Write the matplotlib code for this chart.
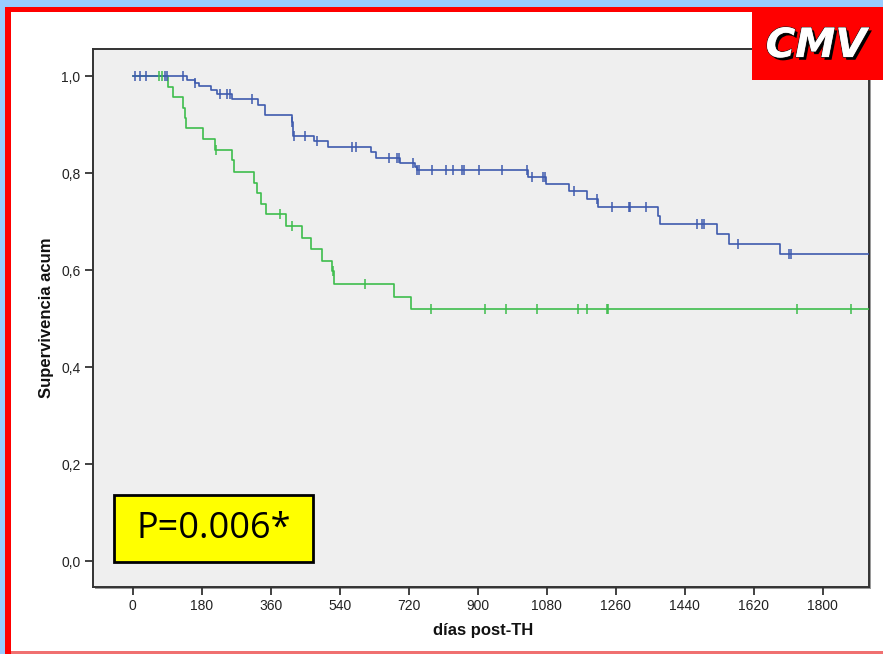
import numpy as np
import matplotlib
matplotlib.use('Agg')
import matplotlib.pyplot as plt
from matplotlib.patches import Rectangle
import matplotlib.patheffects as pe

# ---------------- data ----------------
blue_times = [0, 141, 163, 172, 203, 219, 260, 328, 344, 415, 419, 474, 510, 621, 636,
              697, 736, 741, 1032, 1077, 1138, 1186, 1213, 1371, 1375, 1525, 1556, 1689]
blue_surv = [1.0, 0.992, 0.986, 0.979, 0.971, 0.962, 0.952, 0.940, 0.920, 0.906, 0.876,
             0.866, 0.854, 0.843, 0.830, 0.820, 0.813, 0.806, 0.792, 0.778, 0.763, 0.746,
             0.729, 0.711, 0.694, 0.674, 0.654, 0.633]
blue_censored = [5, 20, 34, 84, 89, 132, 163, 228, 245, 254, 312, 416, 420, 450, 482,
                 571, 583, 669, 689, 695, 730, 743, 748, 780, 817, 835, 858, 864, 904,
                 964, 1028, 1043, 1071, 1076, 1151, 1211, 1250, 1295, 1298, 1339, 1471,
                 1485, 1491, 1580, 1713, 1717]

green_times = [0, 93, 106, 132, 137, 138, 184, 216, 260, 263, 317, 325, 334, 347, 399,
               441, 465, 495, 519, 525, 682, 727]
green_surv = [1.0, 0.978, 0.956, 0.935, 0.913, 0.892, 0.870, 0.847, 0.826, 0.803, 0.780,
              0.758, 0.736, 0.715, 0.691, 0.667, 0.643, 0.619, 0.597, 0.571, 0.545, 0.519]
green_censored = [69, 76, 217, 384, 415, 522, 606, 777, 919, 974, 1056, 1163, 1186,
                  1238, 1241, 1732, 1873]

last_time = 1921
x_ticks = [0, 180, 360, 540, 720, 900, 1080, 1260, 1440, 1620, 1800]
y_ticks = [0.0, 0.2, 0.4, 0.6, 0.8, 1.0]
y_tick_labels = ['0,0', '0,2', '0,4', '0,6', '0,8', '1,0']
x_label = 'días post-TH'
y_label = 'Supervivencia acum'
p_text = 'P=0.006*'
title_text = 'CMV'

BLUE = '#3F5BAE'
GREEN = '#3EBD4C'

W, H = 883, 654
fig = plt.figure(figsize=(W / 100, H / 100), dpi=100)


def fx(px):
    return px / W


def fy(py):
    return 1 - py / H


def frect(x0, y0, x1, y1, **kw):
    r = Rectangle((fx(x0), fy(y1)), fx(x1) - fx(x0), fy(y0) - fy(y1),
                  transform=fig.transFigure, **kw)
    fig.patches.append(r)
    return r


# background frame
frect(0, 0, W, H, facecolor='#99CCFF', edgecolor='none', zorder=0)
frect(5, 7, W + 20, H + 20, facecolor='#FF0000', edgecolor='none', zorder=0.1)
frect(11, 12, W + 20, 651, facecolor='white', edgecolor='none', zorder=0.2)
frect(11, 651, W + 20, H + 20, facecolor='#F07070', edgecolor='none', zorder=0.15)

# axes
ax_l, ax_t, ax_r, ax_b = 93, 49, 869, 587
# shadow of axes frame
frect(ax_l + 2, ax_t + 2, ax_r + 2, ax_b + 2, facecolor='#9a9a9a', edgecolor='none', zorder=0.5)
ax = fig.add_axes([fx(ax_l), fy(ax_b), fx(ax_r) - fx(ax_l), fy(ax_t) - fy(ax_b)])
ax.set_zorder(1)
ax.set_facecolor('#EFEFEF')


def draw_km(times, surv, cens, color):
    xs = list(times) + [last_time]
    ys = list(surv) + [surv[-1]]
    ax.step(xs, ys, where='post', color=color, lw=1.2, zorder=3)
    t = np.asarray(times)
    s = np.asarray(surv)
    idx = np.searchsorted(t, np.asarray(cens), side='right') - 1
    ax.plot(cens, s[idx], linestyle='none', marker='|', markersize=7,
            markeredgewidth=1.1, color=color, zorder=4)


draw_km(green_times, green_surv, green_censored, GREEN)
draw_km(blue_times, blue_surv, blue_censored, BLUE)

ax.set_xlim(-103.6, 1921)
ax.set_ylim(-0.0536, 1.0557)
ax.set_xticks(x_ticks)
ax.set_xticklabels([str(v) for v in x_ticks])
ax.set_yticks(y_ticks)
ax.set_yticklabels(y_tick_labels)
ax.tick_params(direction='out', length=6, width=1.3, color='#333333',
               labelsize=10, labelcolor='#222222', pad=3)
for lab in ax.get_xticklabels() + ax.get_yticklabels():
    lab.set_family('Liberation Sans')
for sp in ax.spines.values():
    sp.set_color('#333333')
    sp.set_linewidth(1.4)

fig.text(fx(47), fy(318), y_label, rotation=90, ha='center', va='center',
         fontsize=12, fontweight='bold', family='Liberation Sans', color='#111111')
fig.text(fx(483), fy(631), x_label, ha='center', va='center',
         fontsize=12, fontweight='bold', family='Liberation Sans', color='#111111')

# CMV box
frect(752, 9, W + 20, 80, facecolor='#FF0000', edgecolor='none', zorder=5)
t = fig.text(fx(816), fy(46), title_text, ha='center', va='center', fontsize=29,
             fontweight='bold', style='italic', family='DejaVu Sans', color='white', zorder=6)
t.set_path_effects([pe.SimplePatchShadow(offset=(2, -2), shadow_rgbFace='black', alpha=1.0),
                    pe.withStroke(linewidth=1, foreground='#222222'), pe.Normal()])

# P-value box
frect(114, 495, 313, 562, facecolor='#FFFF00', edgecolor='black', linewidth=2, zorder=5)
fig.text(fx(213.5), fy(529), p_text, ha='center', va='center', fontsize=26,
         family='Open Sans', color='black', zorder=6)

fig.savefig('out.png', dpi=100)
